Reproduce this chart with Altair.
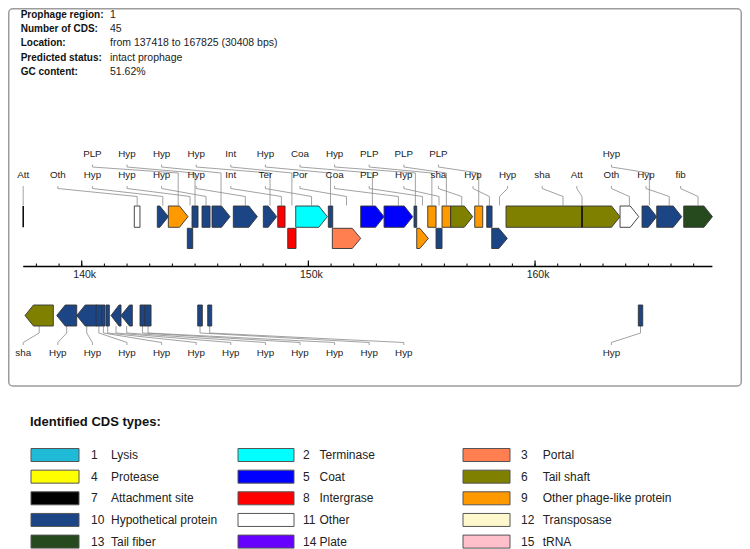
import altair as alt
import pandas as pd

# ---------------- data ----------------
region_start = 137418
region_end = 167825

header_keys = ["Prophage region:", "Number of CDS:", "Location:", "Predicted status:", "GC content:"]
header_values = ["1", "45", "from 137418 to 167825 (30408 bps)", "intact prophage", "51.62%"]

# forward-strand features (upper track)
fwd_start = [137418, 142320, 143335, 143821, 144659, 144866, 145308, 145749, 146689, 148012,
             148648, 149089, 149442, 150880, 151057, 152309, 153338, 154661, 154780, 155266,
             155632, 155896, 156280, 157339, 157869, 158089, 158720, 162073, 163750, 164721,
             165369, 166560]
fwd_end = [137418, 142570, 143821, 144690, 144897, 145131, 145661, 146543, 147747, 148603,
           148970, 149455, 150836, 151074, 152309, 153338, 154604, 154780, 155292, 155632,
           155896, 156280, 157251, 157692, 158103, 158777, 163750, 162073, 164575, 165369,
           166472, 167825]
fwd_type = [7, 11, 10, 9, 10, 10, 10, 10, 10, 10,
            8, 8, 2, 10, 3, 5, 5, 10, 9, 9,
            10, 9, 6, 9, 10, 10, 6, 7, 11, 10,
            10, 13]
fwd_label = ["Att", "Oth", "Hyp", "PLP", "Hyp", "Hyp", "Hyp", "Hyp", "Hyp", "Hyp",
             "Int", "Int", "Ter", "Hyp", "Por", "Coa", "Coa", "Hyp", "PLP", "PLP",
             "Hyp", "PLP", "sha", "PLP", "Hyp", "Hyp", "sha", "Att", "Oth", "Hyp",
             "Hyp", "fib"]

# reverse-strand features (lower track)
rev_start = [137498, 138897, 139779, 140631, 140882, 141072, 141293, 141734, 142572, 142793,
             145118, 145559, 164557]
rev_end = [138747, 139779, 140662, 140882, 141028, 141218, 141734, 142232, 142793, 143058,
           145321, 145736, 164751]
rev_type = [6, 10, 10, 10, 10, 10, 10, 10, 10, 10, 10, 10, 10]
rev_label = ["sha", "Hyp", "Hyp", "Hyp", "Hyp", "Hyp", "Hyp", "Hyp", "Hyp", "Hyp",
             "Hyp", "Hyp", "Hyp"]

# CDS type legend
cds_codes = list(range(1, 16))
cds_names = ["Lysis", "Terminase", "Portal", "Protease", "Coat", "Tail shaft",
             "Attachment site", "Intergrase", "Other phage-like protein",
             "Hypothetical protein", "Other", "Transposase", "Tail fiber", "Plate", "tRNA"]
cds_colors = ["#1FBAD6", "#00FFFF", "#FF7F50", "#FFFF00", "#0000FF", "#808000",
              "#000000", "#FF0000", "#FF9900", "#1C4586", "#FFFFFF", "#FFF8CC",
              "#264A1E", "#6600FF", "#FFC0CB"]

# genome axis ticks
minor_ticks = list(range(138000, 168000, 1000))
major_ticks = [140000, 150000, 160000]

# ---------------- layout (not data) ----------------
fwd_lane = [1, 1, 1, 1, 2, 1, 1, 1, 1, 1, 1, 2, 1, 1, 2, 1, 1, 1, 2, 1,
            2, 1, 1, 1, 1, 2, 1, 1, 1, 1, 1, 1]
fwd_label_row = [2, 2, 2, 1, 2, 1, 2, 1, 2, 1, 2, 1, 2, 1, 2, 1, 2, 1, 2, 1,
                 2, 1, 2, 1, 2, 2, 2, 2, 2, 1, 2, 2]
fwd_label_slot = [0, 1, 2, 2, 3, 3, 4, 4, 5, 5, 6, 6, 7, 7, 8, 8, 9, 9, 10, 10,
                  11, 11, 12, 12, 13, 14, 15, 16, 17, 17, 18, 19]
rev_label_slot = [0, 1, 2, 3, 4, 5, 6, 7, 8, 9, 10, 11, 17]

FONT = "Liberation Sans"
W, H = 734, 541
X_RANGE = [15.2, 704.4]
bp_per_px = (region_end - region_start) / (X_RANGE[1] - X_RANGE[0])
SLOT_BP = 34.6 * bp_per_px
HEAD_PX = 8.5
ARROW_MIN_BP = 400
LANE_Y = {1: (198.0, 219.3), 2: (220.3, 240.5), 3: (297.0, 318.0)}
COLOR = dict(zip(cds_codes, cds_colors))

S = alt.Scale(domain=[region_start, region_end], range=X_RANGE, nice=False, zero=False)


def gene_polys(starts, ends, types, lanes, strand, prefix):
    rows = []
    for i, (s, e, t, l) in enumerate(zip(starts, ends, types, lanes)):
        if t == 7:
            continue
        top, bot = LANE_Y[l]
        mid = (top + bot) / 2
        length = e - s
        if length >= ARROW_MIN_BP:
            head = min(HEAD_PX * bp_per_px, 0.8 * length)
            if strand > 0:
                pts = [(s, top, bot), (e - head, top, bot), (e, mid, mid)]
            else:
                pts = [(s, mid, mid), (s + head, top, bot), (e, top, bot)]
        else:
            pts = [(s, top, bot), (e, top, bot)]
        for x, y1, y2 in pts:
            rows.append(dict(gid=f"{prefix}{i}", x=x, y=y1, y2=y2, color=COLOR[t]))
    return rows


genes = pd.DataFrame(
    gene_polys(fwd_start, fwd_end, fwd_type, fwd_lane, 1, "f")
    + gene_polys(rev_start, rev_end, rev_type, [3] * len(rev_start), -1, "r")
)

att = pd.DataFrame({"x": [s for s, t in zip(fwd_start, fwd_type) if t == 7]})

# leader lines and labels
lead_rows, lab_rows = [], []
for i, (s, e, t, lab, row, k) in enumerate(zip(fwd_start, fwd_end, fwd_type, fwd_label,
                                                fwd_label_row, fwd_label_slot)):
    cx = (s + e) / 2
    sx = region_start + k * SLOT_BP
    if row == 2:
        ys = [197.5, 188.5, 180.5, 178.0]
        ty = 167.0
    else:
        ys = [197.5, 165.0, 159.0, 156.5]
        ty = 146.3
    for j, (x, y) in enumerate([(cx, ys[0]), (cx, ys[1]), (sx, ys[2]), (sx, ys[3])]):
        lead_rows.append(dict(gid=f"f{i}", x=x, y=y, o=j))
    lab_rows.append(dict(x=sx, y=ty, label=lab))
for i, (s, e, lab, k) in enumerate(zip(rev_start, rev_end, rev_label, rev_label_slot)):
    cx = (s + e) / 2
    sx = region_start + k * SLOT_BP
    for j, (x, y) in enumerate([(cx, 318.0), (cx, 325.0), (sx, 334.5), (sx, 337.0)]):
        lead_rows.append(dict(gid=f"r{i}", x=x, y=y, o=j))
    lab_rows.append(dict(x=sx, y=345.0, label=lab))
leads = pd.DataFrame(lead_rows)
labels = pd.DataFrame(lab_rows)

header = pd.DataFrame({"key": header_keys, "value": header_values,
                       "y": [7 + 14.17 * r for r in range(len(header_keys))]})

col_x = [23.0, 230.0, 455.0]
col_w = [48.0, 56.0, 47.0]
num_x = [83.0, 295.0, 513.0]
name_x = [103.0, 311.5, 534.7]
leg = pd.DataFrame({
    "code": cds_codes, "name": cds_names, "color": cds_colors,
})
leg["col"] = (leg["code"] - 1) % 3
leg["row"] = (leg["code"] - 1) // 3
leg["yc"] = 447.0 + 21.65 * leg["row"]
leg["y1"] = leg["yc"] - 6.5
leg["y2"] = leg["yc"] + 6.5
leg["x1"] = leg["col"].map(lambda c: col_x[c])
leg["x2"] = leg["col"].map(lambda c: col_x[c] + col_w[c])
leg["xn"] = leg["col"].map(lambda c: num_x[c])
leg["xl"] = leg["col"].map(lambda c: name_x[c])
leg["num"] = leg["code"].astype(str)

minor = pd.DataFrame({"x": minor_ticks})
major = pd.DataFrame({"x": major_ticks, "label": [f"{t // 1000}k" for t in major_ticks]})
axis_line = pd.DataFrame({"x": [region_start], "x2": [region_end]})
one = pd.DataFrame({"a": [0]})

# ---------------- chart ----------------
def PX(f):
    return alt.X(f, scale=None, axis=None)


def PY(f):
    return alt.Y(f, scale=None, axis=None)


box = alt.Chart(one).mark_rect(filled=False, stroke="#9c9c9c", strokeWidth=1.5,
                               cornerRadius=4).encode(
    x=alt.value(0.75), x2=alt.value(733.25), y=alt.value(0.75), y2=alt.value(378.0))

hdr_k = alt.Chart(header).mark_text(align="left", baseline="middle", font=FONT,
                                     fontSize=10, fontWeight="bold", color="#111").encode(
    x=alt.value(12.7), y=PY("y:Q"), text="key:N")
hdr_v = alt.Chart(header).mark_text(align="left", baseline="middle", font=FONT,
                                     fontSize=10.5, color="#222").encode(
    x=alt.value(102.0), y=PY("y:Q"), text="value:N")

lead = alt.Chart(leads).mark_line(color="#8a8a8a", strokeWidth=0.8).encode(
    x=alt.X("x:Q", scale=S, axis=None), y=PY("y:Q"), detail="gid:N", order="o:Q")

lab = alt.Chart(labels).mark_text(align="center", baseline="middle", font=FONT,
                                  fontSize=9.8, color="#222").encode(
    x=alt.X("x:Q", scale=S, axis=None), y=PY("y:Q"), text="label:N")

gene = alt.Chart(genes).mark_area(stroke="#333333", strokeWidth=0.9,
                                  interpolate="linear").encode(
    x=alt.X("x:Q", scale=S, axis=None),
    y=alt.Y("y:Q", scale=None, axis=None, stack=None),
    y2="y2:Q",
    fill=alt.Fill("color:N", scale=None, legend=None),
    detail="gid:N")

att_rule = alt.Chart(att).mark_rule(color="#000000", strokeWidth=1.5).encode(
    x=alt.X("x:Q", scale=S, axis=None), y=alt.value(198.0), y2=alt.value(219.3))

ax_line = alt.Chart(axis_line).mark_rule(color="#000000", strokeWidth=1.6).encode(
    x=alt.X("x:Q", scale=S, axis=None), x2="x2:Q", y=alt.value(258.5))
ax_minor = alt.Chart(minor).mark_rule(color="#000000", strokeWidth=1).encode(
    x=alt.X("x:Q", scale=S, axis=None), y=alt.value(255.5), y2=alt.value(258.5))
ax_major = alt.Chart(major).mark_rule(color="#000000", strokeWidth=1.2).encode(
    x=alt.X("x:Q", scale=S, axis=None), y=alt.value(252.5), y2=alt.value(258.5))
ax_lab = alt.Chart(major).mark_text(align="center", baseline="middle", font=FONT,
                                    fontSize=10.5, dx=3, color="#222").encode(
    x=alt.X("x:Q", scale=S, axis=None), y=alt.value(267.0), text="label:N")

leg_title = alt.Chart(one).mark_text(align="left", baseline="middle", font=FONT,
                                     fontSize=13, fontWeight="bold", color="#111",
                                     text="Identified CDS types:").encode(
    x=alt.value(22.0), y=alt.value(413.7))
leg_sw = alt.Chart(leg).mark_rect(stroke="#555555", strokeWidth=1).encode(
    x=PX("x1:Q"), x2="x2:Q", y=PY("y1:Q"), y2="y2:Q",
    fill=alt.Fill("color:N", scale=None, legend=None))
leg_num = alt.Chart(leg).mark_text(align="left", baseline="middle", font=FONT,
                                   fontSize=12, color="#222").encode(
    x=PX("xn:Q"), y=PY("yc:Q"), text="num:N")
leg_name = alt.Chart(leg).mark_text(align="left", baseline="middle", font=FONT,
                                    fontSize=12, color="#222").encode(
    x=PX("xl:Q"), y=PY("yc:Q"), text="name:N")

chart = alt.layer(
    box, hdr_k, hdr_v, lead, lab, gene, att_rule,
    ax_line, ax_minor, ax_major, ax_lab,
    leg_title, leg_sw, leg_num, leg_name,
).properties(
    width=W, height=H, padding=0,
    autosize=alt.AutoSizeParams(type="none"),
    background="white",
).configure_view(strokeWidth=0)

chart.save("out.html", embed_options={"renderer": "svg", "actions": False})
